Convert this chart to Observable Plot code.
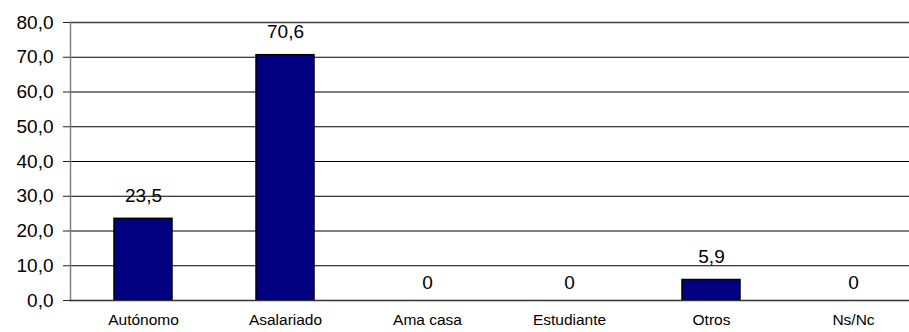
<!DOCTYPE html>
<html><head><meta charset="utf-8">
<script src="https://cdn.jsdelivr.net/npm/d3@7"></script>
<script src="https://cdn.jsdelivr.net/npm/@observablehq/plot@0.6"></script>
<style>html,body{margin:0;padding:0;background:#fff;overflow:hidden}</style>
</head><body><div id="chart"></div>
<script>
const categories = ["Autónomo", "Asalariado", "Ama casa", "Estudiante", "Otros", "Ns/Nc"];
const values = [23.5, 70.6, 0, 0, 5.9, 0];
const yTicks = [0, 10, 20, 30, 40, 50, 60, 70, 80];

const data = categories.map((c, i) => ({category: c, value: values[i]}));
const fmtVal = v => v === 0 ? "0" : v.toFixed(1).replace(".", ",");
const fmtTick = v => v.toFixed(1).replace(".", ",");

const plot = Plot.plot({
  width: 909,
  height: 332,
  marginTop: 22,
  marginBottom: 32,
  marginLeft: 70,
  marginRight: 0,
  style: {fontFamily: "'Liberation Sans', Arial, sans-serif", background: "#fff", color: "#000", overflow: "visible"},
  x: {domain: categories, range: [70, 926], paddingInner: 0.59, paddingOuter: 0.295, align: 0.5},
  y: {domain: [0, 80]},
  marks: [
    Plot.gridY(yTicks.filter(t => t > 0 && t < 80), {stroke: "#000", strokeOpacity: 1}),
    Plot.gridY([80], {stroke: "#404040", strokeOpacity: 1, strokeWidth: 1.5}),
    Plot.barY(data.filter(d => d.value > 0), {x: "category", y: "value", fill: "#000080", stroke: "#000", strokeWidth: 1.5}),
    Plot.frame({anchor: "left", stroke: "#808080", strokeWidth: 1.5}),
    Plot.frame({anchor: "bottom", stroke: "#333", strokeWidth: 1.5}),
    Plot.axisY({ticks: yTicks, tickSize: 7, tickPadding: 10, tickFormat: fmtTick, fontSize: 19, label: null, stroke: "#222"}),
    Plot.axisX({tickSize: 0, tickPadding: 13, fontSize: 15.5, label: null}),
    Plot.text(data.filter(d => d.value > 0), {x: "category", y: "value", text: d => fmtVal(d.value), dy: -23, fontSize: 19, lineAnchor: "middle", fill: "#000"}),
    Plot.text(data.filter(d => d.value === 0), {x: "category", y: "value", text: d => fmtVal(d.value), dy: -18, fontSize: 19, lineAnchor: "middle", fill: "#000"})
  ]
});
document.getElementById("chart").append(plot);
</script>
</body></html>
